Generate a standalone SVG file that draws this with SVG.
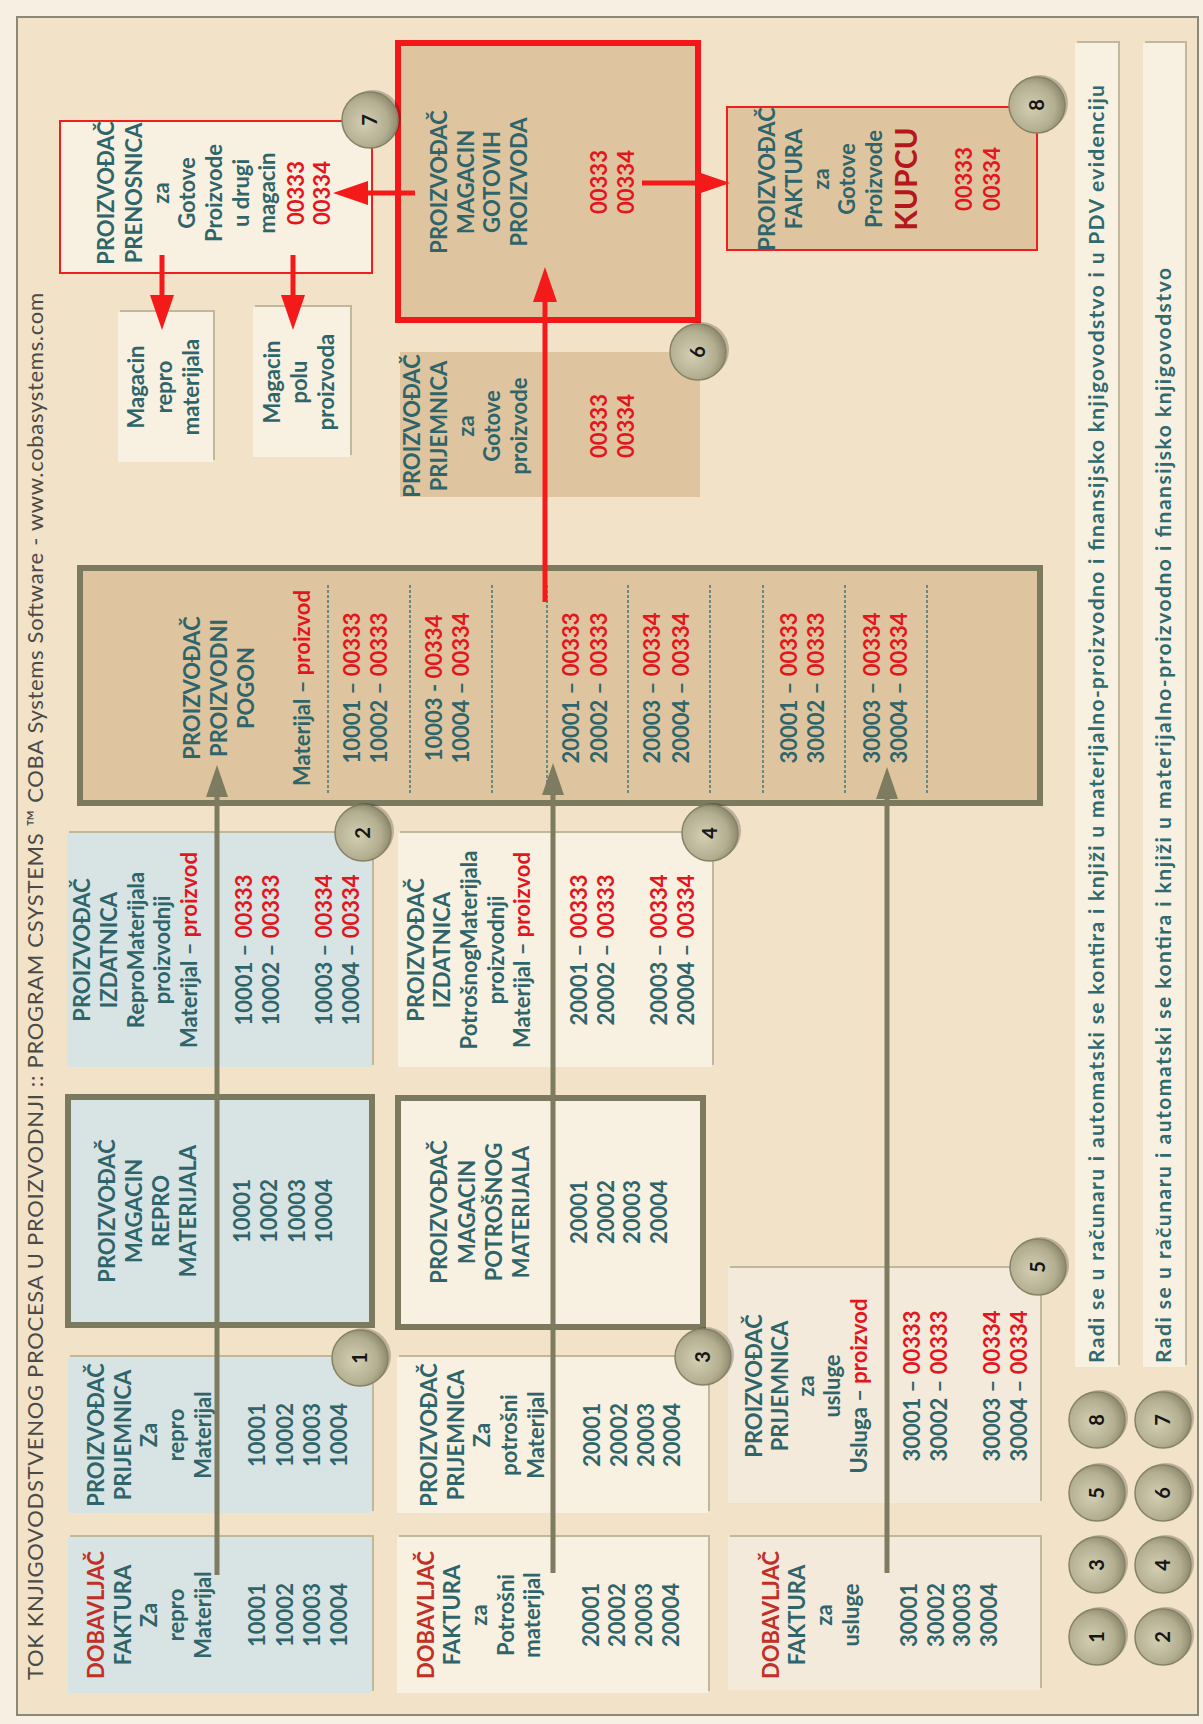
<svg xmlns="http://www.w3.org/2000/svg" width="1203" height="1724" viewBox="0 0 1203 1724">
<style>
.t{font-family:Lato,"Open Sans","Liberation Sans",sans-serif;font-weight:bold;font-size:22px;fill:#2f656a;text-anchor:middle}
.r{fill:#e3161e}
.d{fill:#c32e27}
.k{fill:#b4181c;font-size:30px}
.blue{fill:#d8e4e3}
.cream{fill:#f8f1e1}
.pink{fill:#f4eadc}
.brown{fill:#dfc59f}
.sh{fill:#bfb89d}
.thick{stroke:#7b7a5e;stroke-width:6}
.redb{stroke:#f01e1e;stroke-width:2}
.redB{stroke:#f5161a;stroke-width:6}
.dash{stroke:#4a7b80;stroke-width:1.6;stroke-dasharray:3 2}
.bs{fill:#000;opacity:.22}
.bc{fill:url(#bg);stroke:#858266;stroke-width:1.5}
.bt{font-family:Lato,"Open Sans","Liberation Sans",sans-serif;font-weight:bold;font-size:20px;fill:#161616;text-anchor:middle}
.olive{stroke:#7d7b60;stroke-width:5;fill:none}
.red{stroke:#f51a1a;stroke-width:5;fill:none}
.title{font-family:Lato,"Open Sans","Liberation Sans",sans-serif;font-size:22px;fill:#4a4a48}
.leg{font-family:Lato,"Open Sans","Liberation Sans",sans-serif;font-size:21px;fill:#2f6a70;font-weight:bold}
</style>
<defs>
<radialGradient id="bg" cx="45%" cy="40%" r="60%">
<stop offset="0" stop-color="#d3cfb4"/>
<stop offset="0.7" stop-color="#b3ae90"/>
<stop offset="1" stop-color="#8f8b6e"/>
</radialGradient>
<marker id="ao" markerUnits="userSpaceOnUse" markerWidth="34" markerHeight="24" refX="4" refY="12" orient="auto">
<path d="M0,1 L32,12 L0,23 Z" fill="#7d7b60"/>
</marker>
<marker id="ar" markerUnits="userSpaceOnUse" markerWidth="36" markerHeight="26" refX="4" refY="13" orient="auto">
<path d="M0,1 L35,13 L0,25 Z" fill="#f51a1a"/>
</marker>
</defs>
<rect x="0" y="0" width="1203" height="1724" fill="#f7efe2"/>
<g transform="translate(0,1724) rotate(-90)">
<rect x="9" y="17" width="1698" height="1181" fill="#f2e2c7" stroke="#8b8878" stroke-width="2"/>
<text class="title" x="44" y="43" textLength="1387" lengthAdjust="spacing">TOK KNJIGOVODSTVENOG PROCESA  U PROIZVODNJI :: PROGRAM CSYSTEMS ™ COBA Systems Software - www.cobasystems.com</text>

<!-- Row 1 -->
<g id="a1">
<rect class="sh" x="33" y="70" width="156" height="304"/>
<rect class="blue" x="31" y="68" width="156" height="304"/>
<text class="t"><tspan x="109" y="104" class="d">DOBAVLJAČ</tspan><tspan x="109" y="131">FAKTURA</tspan><tspan x="109" y="157">Za</tspan><tspan x="109" y="184">repro</tspan><tspan x="109" y="211">Materijal</tspan><tspan x="109" y="265">10001</tspan><tspan x="109" y="293">10002</tspan><tspan x="109" y="320">10003</tspan><tspan x="109" y="347">10004</tspan></text>
</g>
<g id="a2">
<rect class="sh" x="213" y="70" width="156" height="304"/>
<rect class="blue" x="211" y="68" width="156" height="304"/>
<text class="t"><tspan x="289" y="104">PROIZVOĐAČ</tspan><tspan x="289" y="131">PRIJEMNICA</tspan><tspan x="289" y="157">Za</tspan><tspan x="289" y="184">repro</tspan><tspan x="289" y="211">Materijal</tspan><tspan x="289" y="265">10001</tspan><tspan x="289" y="293">10002</tspan><tspan x="289" y="320">10003</tspan><tspan x="289" y="347">10004</tspan></text>
</g>
<g id="a3">
<rect class="blue thick" x="399" y="68" width="228" height="304"/>
<text class="t"><tspan x="513" y="115">PROIZVOĐAČ</tspan><tspan x="513" y="142">MAGACIN</tspan><tspan x="513" y="169">REPRO</tspan><tspan x="513" y="196">MATERIJALA</tspan><tspan x="513" y="250">10001</tspan><tspan x="513" y="277">10002</tspan><tspan x="513" y="305">10003</tspan><tspan x="513" y="332">10004</tspan></text>
</g>
<g id="a4">
<rect class="sh" x="659" y="69" width="234" height="305"/>
<rect class="blue" x="657" y="67" width="234" height="305"/>
<text class="t"><tspan x="774" y="90">PROIZVOĐAČ</tspan><tspan x="774" y="117">IZDATNICA</tspan><tspan x="774" y="144">ReproMaterijala</tspan><tspan x="774" y="170">proizvodnji</tspan><tspan x="774" y="197">Materijal – <tspan class="r">proizvod</tspan></tspan><tspan x="774" y="252">10001 – <tspan class="r">00333</tspan></tspan><tspan x="774" y="279">10002 – <tspan class="r">00333</tspan></tspan><tspan x="774" y="332">10003 – <tspan class="r">00334</tspan></tspan><tspan x="774" y="359">10004 – <tspan class="r">00334</tspan></tspan></text>
</g>

<!-- Row 2 -->
<g id="b1n">
<rect class="sh" x="33" y="399" width="156" height="311"/>
<rect class="cream" x="31" y="397" width="156" height="311"/>
<text class="t"><tspan x="109" y="434" class="d">DOBAVLJAČ</tspan><tspan x="109" y="460">FAKTURA</tspan><tspan x="109" y="487">za</tspan><tspan x="109" y="514">Potrošni</tspan><tspan x="109" y="540">materijal</tspan><tspan x="109" y="599">20001</tspan><tspan x="109" y="625">20002</tspan><tspan x="109" y="652">20003</tspan><tspan x="109" y="679">20004</tspan></text>
</g>
<g id="b2n">
<rect class="sh" x="213" y="399" width="156" height="311"/>
<rect class="cream" x="211" y="397" width="156" height="311"/>
<text class="t"><tspan x="289" y="437">PROIZVOĐAČ</tspan><tspan x="289" y="464">PRIJEMNICA</tspan><tspan x="289" y="490">Za</tspan><tspan x="289" y="517">potrošni</tspan><tspan x="289" y="544">Materijal</tspan><tspan x="289" y="600">20001</tspan><tspan x="289" y="627">20002</tspan><tspan x="289" y="654">20003</tspan><tspan x="289" y="680">20004</tspan></text>
</g>
<g id="b3n">
<rect class="cream thick" x="397" y="398" width="229" height="305"/>
<text class="t"><tspan x="512" y="447">PROIZVOĐAČ</tspan><tspan x="512" y="475">MAGACIN</tspan><tspan x="512" y="502">POTROŠNOG</tspan><tspan x="512" y="529">MATERIJALA</tspan><tspan x="512" y="587">20001</tspan><tspan x="512" y="614">20002</tspan><tspan x="512" y="640">20003</tspan><tspan x="512" y="667">20004</tspan></text>
</g>
<g id="b4n">
<rect class="sh" x="659" y="400" width="234" height="314"/>
<rect class="cream" x="657" y="398" width="234" height="314"/>
<text class="t"><tspan x="774" y="424">PROIZVOĐAČ</tspan><tspan x="774" y="450">IZDATNICA</tspan><tspan x="774" y="477">PotrošnogMaterijala</tspan><tspan x="774" y="504">proizvodnji</tspan><tspan x="774" y="530">Materijal – <tspan class="r">proizvod</tspan></tspan><tspan x="774" y="587">20001 – <tspan class="r">00333</tspan></tspan><tspan x="774" y="614">20002 – <tspan class="r">00333</tspan></tspan><tspan x="774" y="667">20003 – <tspan class="r">00334</tspan></tspan><tspan x="774" y="694">20004 – <tspan class="r">00334</tspan></tspan></text>
</g>

<!-- Row 3 -->
<g id="c1n">
<rect class="sh" x="36" y="730" width="153" height="312"/>
<rect class="pink" x="34" y="728" width="153" height="312"/>
<text class="t"><tspan x="109" y="779" class="d">DOBAVLJAČ</tspan><tspan x="109" y="805">FAKTURA</tspan><tspan x="109" y="832">za</tspan><tspan x="109" y="859">usluge</tspan><tspan x="109" y="917">30001</tspan><tspan x="109" y="944">30002</tspan><tspan x="109" y="970">30003</tspan><tspan x="109" y="997">30004</tspan></text>
</g>
<g id="c2n">
<rect class="sh" x="223" y="730" width="235" height="312"/>
<rect class="pink" x="221" y="728" width="235" height="312"/>
<text class="t"><tspan x="338" y="762">PROIZVOĐAČ</tspan><tspan x="338" y="788">PRIJEMNICA</tspan><tspan x="338" y="814">za</tspan><tspan x="338" y="840">usluge</tspan><tspan x="338" y="867">Usluga – <tspan class="r">proizvod</tspan></tspan><tspan x="338" y="920">30001 – <tspan class="r">00333</tspan></tspan><tspan x="338" y="947">30002 – <tspan class="r">00333</tspan></tspan><tspan x="338" y="1000">30003 – <tspan class="r">00334</tspan></tspan><tspan x="338" y="1027">30004 – <tspan class="r">00334</tspan></tspan></text>
</g>

<!-- Pogon -->
<g id="pogon">
<rect class="brown thick" x="921" y="80" width="235" height="960"/>
<g class="dash">
<line x1="931" y1="328" x2="1141" y2="328"/>
<line x1="931" y1="410" x2="1141" y2="410"/>
<line x1="931" y1="492" x2="1141" y2="492"/>
<line x1="931" y1="547" x2="1141" y2="547"/>
<line x1="931" y1="628" x2="1141" y2="628"/>
<line x1="931" y1="710" x2="1141" y2="710"/>
<line x1="931" y1="763" x2="1141" y2="763"/>
<line x1="931" y1="845" x2="1141" y2="845"/>
<line x1="931" y1="927" x2="1141" y2="927"/>
</g>
<text class="t"><tspan x="1036" y="200">PROIZVOĐAČ</tspan><tspan x="1036" y="227">PROIZVODNI</tspan><tspan x="1036" y="254">POGON</tspan><tspan x="1036" y="310">Materijal – <tspan class="r">proizvod</tspan></tspan><tspan x="1036" y="360">10001 – <tspan class="r">00333</tspan></tspan><tspan x="1036" y="387">10002 – <tspan class="r">00333</tspan></tspan><tspan x="1036" y="442">10003 - <tspan class="r">00334</tspan></tspan><tspan x="1036" y="469">10004 – <tspan class="r">00334</tspan></tspan><tspan x="1036" y="579">20001 – <tspan class="r">00333</tspan></tspan><tspan x="1036" y="607">20002 – <tspan class="r">00333</tspan></tspan><tspan x="1036" y="660">20003 – <tspan class="r">00334</tspan></tspan><tspan x="1036" y="689">20004 – <tspan class="r">00334</tspan></tspan><tspan x="1036" y="797">30001 – <tspan class="r">00333</tspan></tspan><tspan x="1036" y="824">30002 – <tspan class="r">00333</tspan></tspan><tspan x="1036" y="880">30003 – <tspan class="r">00334</tspan></tspan><tspan x="1036" y="907">30004 – <tspan class="r">00334</tspan></tspan></text>
</g>

<!-- Top area -->
<g id="prijGotove">
<rect class="brown" x="1227" y="400" width="145" height="300"/>
<text class="t"><tspan x="1298" y="420">PROIZVOĐAČ</tspan><tspan x="1298" y="447">PRIJEMNICA</tspan><tspan x="1298" y="474">za</tspan><tspan x="1298" y="500">Gotove</tspan><tspan x="1298" y="527">proizvode</tspan><tspan x="1298" y="607" class="r">00333</tspan><tspan x="1298" y="634" class="r">00334</tspan></text>
</g>
<g id="magGotovih">
<rect class="brown redB" x="1404" y="398" width="277" height="300"/>
<text class="t"><tspan x="1542" y="447">PROIZVOĐAČ</tspan><tspan x="1542" y="474">MAGACIN</tspan><tspan x="1542" y="500">GOTOVIH</tspan><tspan x="1542" y="527">PROIZVODA</tspan><tspan x="1542" y="607" class="r">00333</tspan><tspan x="1542" y="634" class="r">00334</tspan></text>
</g>
<g id="fakturaKupcu">
<rect class="brown redb" x="1474" y="727" width="143" height="310"/>
<text class="t"><tspan x="1545" y="775">PROIZVOĐAČ</tspan><tspan x="1545" y="802">FAKTURA</tspan><tspan x="1545" y="829">za</tspan><tspan x="1545" y="855">Gotove</tspan><tspan x="1545" y="882">Proizvode</tspan><tspan x="1545" y="917" class="k">KUPCU</tspan><tspan x="1545" y="972" class="r">00333</tspan><tspan x="1545" y="1000" class="r">00334</tspan></text>
</g>
<g id="prenosnica">
<rect class="cream redb" x="1451" y="60" width="152" height="312"/>
<text class="t"><tspan x="1531" y="114">PROIZVOĐAČ</tspan><tspan x="1531" y="142">PRENOSNICA</tspan><tspan x="1531" y="169">za</tspan><tspan x="1531" y="195">Gotove</tspan><tspan x="1531" y="222">Proizvode</tspan><tspan x="1531" y="249">u drugi</tspan><tspan x="1531" y="275">magacin</tspan><tspan x="1531" y="304" class="r">00333</tspan><tspan x="1531" y="330" class="r">00334</tspan></text>
</g>
<g id="magRepro">
<rect class="sh" x="1264" y="120" width="150" height="95"/>
<rect class="cream" x="1262" y="118" width="150" height="95"/>
<text class="t"><tspan x="1337" y="144">Magacin</tspan><tspan x="1337" y="172">repro</tspan><tspan x="1337" y="199">materijala</tspan></text>
</g>
<g id="magPolu">
<rect class="sh" x="1269" y="255" width="150" height="97"/>
<rect class="cream" x="1267" y="253" width="150" height="97"/>
<text class="t"><tspan x="1342" y="280">Magacin</tspan><tspan x="1342" y="307">polu</tspan><tspan x="1342" y="334">proizvoda</tspan></text>
</g>

<!-- Legend strips -->
<g id="legend1">
<rect class="sh" x="359" y="1077" width="1324" height="43"/>
<rect class="cream" x="357" y="1075" width="1324" height="43"/>
<text class="leg" x="361" y="1104" textLength="1278" lengthAdjust="spacing">Radi se u računaru i automatski se kontira i knjiži u materijalno-proizvodno i finansijsko knjigovodstvo i u PDV evidenciju</text>
</g>
<g id="legend2">
<rect class="sh" x="359" y="1145" width="1324" height="42"/>
<rect class="cream" x="357" y="1143" width="1324" height="42"/>
<text class="leg" x="361" y="1171" textLength="1095" lengthAdjust="spacing">Radi se u računaru i automatski se kontira i knjiži u materijalno-proizvodno i finansijsko knjigovodstvo</text>
</g>

<!-- Connectors -->
<g id="connectors">
<line class="olive" x1="149" y1="217" x2="931" y2="217" marker-end="url(#ao)"/>
<line class="olive" x1="151" y1="553" x2="933" y2="553" marker-end="url(#ao)"/>
<line class="olive" x1="151" y1="887" x2="929" y2="887" marker-end="url(#ao)"/>
<line class="red" x1="1122" y1="545" x2="1426" y2="545" marker-end="url(#ar)"/>
<line class="red" x1="1531" y1="415" x2="1531" y2="364" marker-end="url(#ar)"/>
<line class="red" x1="1541" y1="642" x2="1541" y2="699" marker-end="url(#ar)"/>
<line class="red" x1="1469" y1="162" x2="1425" y2="162" marker-end="url(#ar)"/>
<line class="red" x1="1469" y1="293" x2="1425" y2="293" marker-end="url(#ar)"/>
</g>

<!-- Badges -->
<g id="badge1" transform="translate(366,360)"><circle class="bs" cx="2" cy="3" r="28"/><circle class="bc" r="28"/><text class="bt" y="7">1</text></g>
<g id="badge2" transform="translate(891,363)"><circle class="bs" cx="2" cy="3" r="28"/><circle class="bc" r="28"/><text class="bt" y="7">2</text></g>
<g id="badge3" transform="translate(367,703)"><circle class="bs" cx="2" cy="3" r="28"/><circle class="bc" r="28"/><text class="bt" y="7">3</text></g>
<g id="badge4" transform="translate(891,710)"><circle class="bs" cx="2" cy="3" r="28"/><circle class="bc" r="28"/><text class="bt" y="7">4</text></g>
<g id="badge5" transform="translate(457,1038)"><circle class="bs" cx="2" cy="3" r="28"/><circle class="bc" r="28"/><text class="bt" y="7">5</text></g>
<g id="badge6" transform="translate(1372,698)"><circle class="bs" cx="2" cy="3" r="28"/><circle class="bc" r="28"/><text class="bt" y="7">6</text></g>
<g id="badge7" transform="translate(1604,370)"><circle class="bs" cx="2" cy="3" r="28"/><circle class="bc" r="28"/><text class="bt" y="7">7</text></g>
<g id="badge8" transform="translate(1619,1037)"><circle class="bs" cx="2" cy="3" r="28"/><circle class="bc" r="28"/><text class="bt" y="7">8</text></g>

<g id="legendBadges">
<g transform="translate(87,1097)"><circle class="bs" cx="2" cy="3" r="28"/><circle class="bc" r="28"/><text class="bt" y="7">1</text></g>
<g transform="translate(159,1097)"><circle class="bs" cx="2" cy="3" r="28"/><circle class="bc" r="28"/><text class="bt" y="7">3</text></g>
<g transform="translate(231,1097)"><circle class="bs" cx="2" cy="3" r="28"/><circle class="bc" r="28"/><text class="bt" y="7">5</text></g>
<g transform="translate(304,1097)"><circle class="bs" cx="2" cy="3" r="28"/><circle class="bc" r="28"/><text class="bt" y="7">8</text></g>
<g transform="translate(87,1163)"><circle class="bs" cx="2" cy="3" r="28"/><circle class="bc" r="28"/><text class="bt" y="7">2</text></g>
<g transform="translate(159,1163)"><circle class="bs" cx="2" cy="3" r="28"/><circle class="bc" r="28"/><text class="bt" y="7">4</text></g>
<g transform="translate(231,1163)"><circle class="bs" cx="2" cy="3" r="28"/><circle class="bc" r="28"/><text class="bt" y="7">6</text></g>
<g transform="translate(304,1163)"><circle class="bs" cx="2" cy="3" r="28"/><circle class="bc" r="28"/><text class="bt" y="7">7</text></g>
</g>
</g>
</svg>
